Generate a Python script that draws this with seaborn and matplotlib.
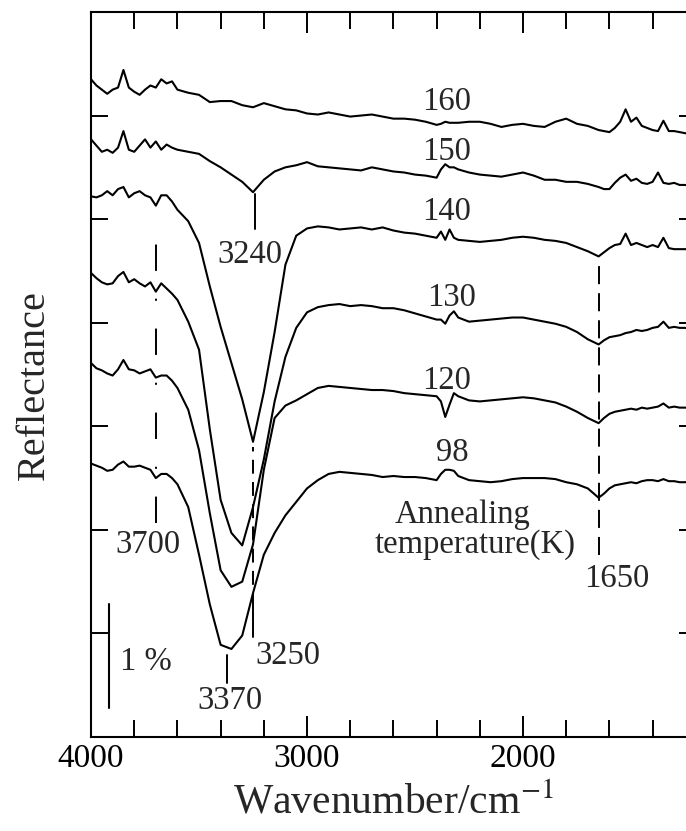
import pandas as pd
import seaborn as sns
import matplotlib.pyplot as plt
from matplotlib.ticker import MultipleLocator

# wavenumber grid (cm^-1)
wavenumber = [4000, 3975, 3950, 3925, 3900, 3875, 3850, 3825, 3800, 3775, 3750, 3725, 3700, 3675, 3650, 3625, 3600,
              3550, 3500, 3450, 3400, 3350, 3300, 3250, 3200, 3150, 3100, 3050, 3000,
              2950, 2900, 2850, 2800, 2750, 2700, 2650, 2600, 2550, 2500, 2450, 2400,
              2380, 2360, 2340, 2320,
              2300, 2250, 2200, 2150, 2100, 2050, 2000, 1950, 1900, 1850, 1800, 1750, 1700, 1650,
              1625, 1600, 1575, 1550, 1525, 1500, 1475, 1450, 1425, 1400, 1375, 1350, 1325, 1300, 1275, 1250, 1225, 1200]

# reflectance (%, stacked with offsets) for each annealing temperature
r160 = [6.35, 6.29, 6.25, 6.21, 6.25, 6.27, 6.44, 6.27, 6.23, 6.20, 6.25, 6.29, 6.27, 6.35, 6.31, 6.33, 6.25,
        6.22, 6.20, 6.13, 6.14, 6.14, 6.10, 6.08, 6.12, 6.09, 6.06, 6.05, 6.02,
        6.01, 6.03, 6.01, 5.99, 6.00, 6.01, 5.99, 5.97, 5.97, 5.96, 5.94, 5.91,
        5.92, 5.94, 5.93, 5.93,
        5.93, 5.94, 5.94, 5.92, 5.89, 5.91, 5.92, 5.90, 5.89, 5.94, 5.97, 5.92, 5.90, 5.86,
        5.85, 5.84, 5.88, 5.94, 6.06, 5.94, 5.98, 5.90, 5.88, 5.86, 5.85, 5.95, 5.85, 5.85, 5.84, 5.83, 5.82, 5.81]
r150 = [5.77, 5.71, 5.65, 5.67, 5.64, 5.69, 5.85, 5.67, 5.65, 5.71, 5.77, 5.69, 5.75, 5.67, 5.72, 5.69, 5.67,
        5.65, 5.63, 5.56, 5.50, 5.43, 5.36, 5.26, 5.38, 5.46, 5.50, 5.52, 5.55,
        5.51, 5.50, 5.49, 5.48, 5.47, 5.50, 5.48, 5.46, 5.45, 5.43, 5.42, 5.40,
        5.48, 5.53, 5.50, 5.50,
        5.48, 5.45, 5.43, 5.42, 5.41, 5.43, 5.45, 5.42, 5.38, 5.38, 5.36, 5.36, 5.34, 5.31,
        5.29, 5.29, 5.35, 5.40, 5.43, 5.37, 5.39, 5.35, 5.34, 5.36, 5.45, 5.35, 5.34, 5.35, 5.33, 5.33, 5.32, 5.32]
r140 = [5.22, 5.21, 5.23, 5.27, 5.23, 5.29, 5.31, 5.21, 5.25, 5.27, 5.23, 5.21, 5.13, 5.23, 5.23, 5.17, 5.09,
        4.98, 4.77, 4.35, 3.96, 3.61, 3.26, 2.85, 3.33, 3.91, 4.56, 4.84, 4.91,
        4.93, 4.92, 4.90, 4.91, 4.92, 4.90, 4.92, 4.89, 4.87, 4.86, 4.84, 4.82,
        4.88, 4.80, 4.90, 4.82,
        4.80, 4.79, 4.78, 4.79, 4.80, 4.82, 4.83, 4.82, 4.80, 4.79, 4.77, 4.73, 4.69, 4.64,
        4.68, 4.72, 4.75, 4.76, 4.86, 4.75, 4.77, 4.75, 4.73, 4.75, 4.73, 4.82, 4.72, 4.71, 4.71, 4.71, 4.71, 4.70]
r130 = [4.48, 4.43, 4.39, 4.37, 4.38, 4.45, 4.49, 4.39, 4.42, 4.38, 4.35, 4.39, 4.30, 4.38, 4.33, 4.28, 4.22,
        4.01, 3.74, 2.97, 2.29, 1.97, 1.85, 2.22, 2.68, 3.24, 3.67, 3.95, 4.10,
        4.15, 4.17, 4.18, 4.16, 4.17, 4.16, 4.14, 4.14, 4.12, 4.09, 4.06, 4.03,
        4.03, 3.99, 4.07, 4.11,
        4.05, 4.01, 4.02, 4.03, 4.04, 4.05, 4.05, 4.03, 4.01, 3.99, 3.96, 3.91, 3.84, 3.79,
        3.83, 3.86, 3.87, 3.88, 3.90, 3.91, 3.93, 3.92, 3.93, 3.95, 3.96, 4.01, 3.95, 3.96, 3.95, 3.95, 3.94, 3.94]
r120 = [3.61, 3.56, 3.54, 3.51, 3.49, 3.55, 3.64, 3.55, 3.54, 3.51, 3.53, 3.55, 3.47, 3.49, 3.49, 3.44, 3.37,
        3.16, 2.77, 2.16, 1.61, 1.45, 1.50, 1.86, 2.58, 3.08, 3.20, 3.25, 3.31,
        3.37, 3.39, 3.38, 3.37, 3.36, 3.35, 3.35, 3.34, 3.32, 3.31, 3.30, 3.29,
        3.24, 3.09, 3.21, 3.32,
        3.29, 3.25, 3.24, 3.25, 3.26, 3.27, 3.28, 3.27, 3.25, 3.23, 3.19, 3.14, 3.08, 3.03,
        3.08, 3.12, 3.14, 3.15, 3.16, 3.17, 3.16, 3.18, 3.17, 3.18, 3.19, 3.22, 3.18, 3.19, 3.18, 3.18, 3.18, 3.17]
r98 = [2.64, 2.62, 2.60, 2.57, 2.58, 2.63, 2.66, 2.61, 2.61, 2.62, 2.60, 2.58, 2.50, 2.54, 2.54, 2.50, 2.44,
       2.22, 1.76, 1.28, 0.89, 0.85, 0.98, 1.39, 1.76, 1.97, 2.14, 2.27, 2.40,
       2.48, 2.54, 2.56, 2.55, 2.54, 2.53, 2.51, 2.52, 2.51, 2.51, 2.50, 2.48,
       2.54, 2.58, 2.58, 2.57,
       2.52, 2.48, 2.47, 2.46, 2.47, 2.49, 2.50, 2.50, 2.50, 2.49, 2.46, 2.44, 2.40, 2.31,
       2.35, 2.40, 2.43, 2.44, 2.45, 2.46, 2.45, 2.47, 2.48, 2.48, 2.47, 2.49, 2.47, 2.47, 2.46, 2.46, 2.46, 2.45]

temps = ["160", "150", "140", "130", "120", "98"]
spectra = [r160, r150, r140, r130, r120, r98]

# peak markers
peak_text = ["3240", "3700", "3250", "3370", "1650"]
peak_pos = [3240, 3700, 3250, 3370, 1650]
scale_pct = 1.0

frames = []
for t, r in zip(temps, spectra):
    frames.append(pd.DataFrame({"wavenumber": wavenumber, "reflectance": r, "temperature": t}))
df = pd.concat(frames, ignore_index=True)

sns.set_style("ticks")
plt.rcParams["font.family"] = "Liberation Serif"
plt.rcParams["mathtext.fontset"] = "stix"
plt.rcParams["lines.scale_dashes"] = False

fig = plt.figure(figsize=(6.86, 8.31), dpi=100)
ax = fig.add_axes([0.1327, 0.1131, 0.8816, 0.8725])

sns.lineplot(data=df, x="wavenumber", y="reflectance", units="temperature", estimator=None,
             color="black", lw=1.5, legend=False, ax=ax)

ax.set_xlim(4000, 1200)
ax.set_ylim(0, 7)
ax.xaxis.set_major_locator(MultipleLocator(1000))
ax.xaxis.set_minor_locator(MultipleLocator(200))
ax.set_yticks([1, 2, 3, 4, 5, 6])
ax.tick_params(which="both", direction="in", top=True, right=True, width=1.4, colors="black")
ax.tick_params(axis="x", which="major", length=15, labelsize=24, pad=5)
ax.tick_params(axis="x", which="minor", length=12)
ax.tick_params(axis="y", which="major", length=12, labelleft=False)
for s in ax.spines.values():
    s.set_linewidth(1.5)
    s.set_color("black")

ax.set_xlabel("Wavenumber/cm$^{-1}$", fontsize=30)
ax.xaxis.set_label_coords(0.50, -0.064)
ax.set_ylabel("Reflectance", fontsize=29)
ax.yaxis.set_label_coords(-0.063, 0.486)

# temperature labels
label_x = [2352, 2352, 2352, 2333, 2352, 2329]
label_y = [6.13, 5.65, 5.07, 4.24, 3.44, 2.74]
for t, lx, ly in zip(temps, label_x, label_y):
    ax.text(lx, ly, t, ha="center", va="center", fontsize=23.5)
ax.text(2282, 2.145, "Annealing", ha="center", va="center", fontsize=23.5)
ax.text(2220, 1.855, "temperature(K)", ha="center", va="center", fontsize=23.5)

# marker lines and labels
kw = dict(color="black", lw=1.4)
ax.plot([peak_pos[0]] * 2, [4.90, 5.24], **kw)
ax.text(3264, 4.657, peak_text[0], ha="center", va="center", fontsize=23.5)

ax.plot([peak_pos[1]] * 2, [2.07, 4.97], ls=(0, (19, 20, 1.5, 20)), **kw)
ax.text(3736, 1.855, peak_text[1], ha="center", va="center", fontsize=23.5)

ax.plot([peak_pos[2]] * 2, [1.26, 2.80], ls=(0, (10, 6)), **kw)
ax.plot([peak_pos[2]] * 2, [0.97, 1.26], **kw)
ax.text(3088, 0.783, peak_text[2], ha="center", va="center", fontsize=23.5)

ax.plot([peak_pos[3]] * 2, [0.52, 0.79], **kw)
ax.text(3356, 0.348, peak_text[3], ha="center", va="center", fontsize=23.5)

ax.plot([peak_pos[4]] * 2, [1.76, 4.58], ls=(0, (13, 6.5)), **kw)
ax.text(1565, 1.527, peak_text[4], ha="center", va="center", fontsize=23.5)

# 1 % scale bar
ax.plot([3915, 3915], [0.28, 0.28 + scale_pct], color="black", lw=1.5)
ax.text(3745, 0.725, "1 %", ha="center", va="center", fontsize=23.5)

fig.savefig("out.png", dpi=100)
